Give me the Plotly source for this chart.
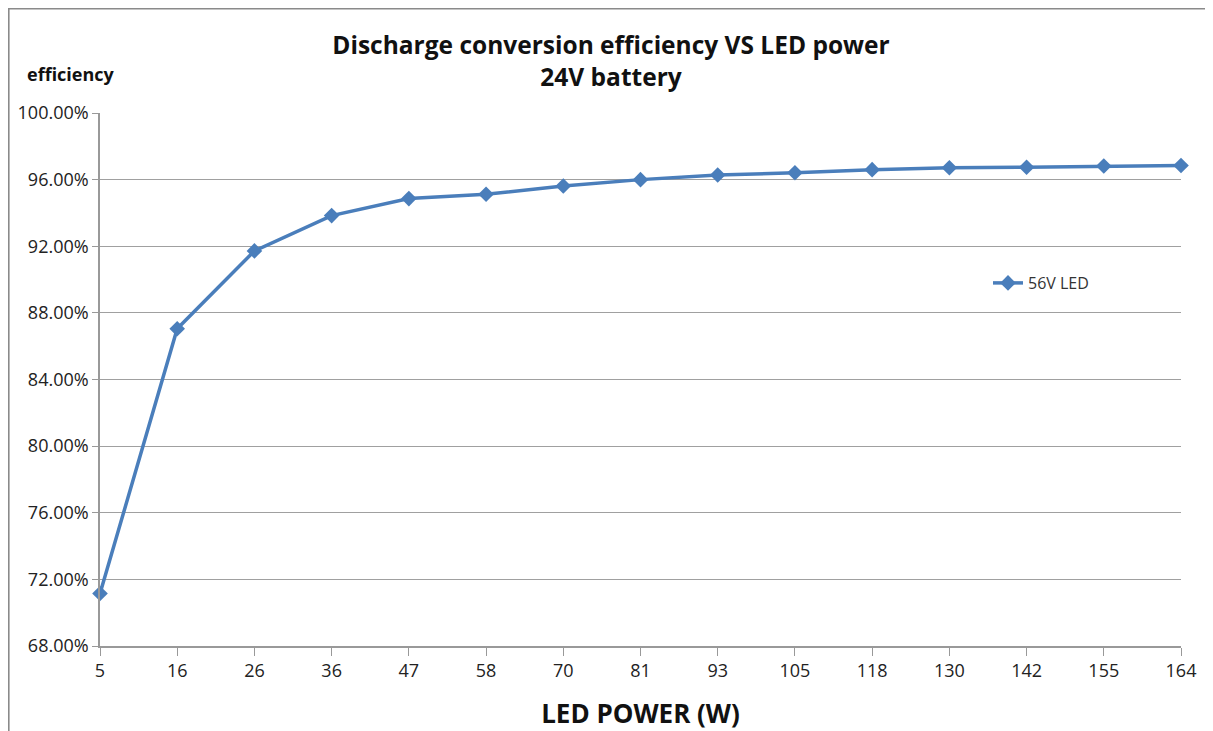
import plotly.graph_objects as go

categories = ["5", "16", "26", "36", "47", "58", "70", "81", "93", "105", "118", "130", "142", "155", "164"]
efficiency = [0.7115, 0.8705, 0.9172, 0.9384, 0.9486, 0.9512, 0.9562, 0.9600, 0.9628, 0.9641, 0.9660, 0.9671, 0.9674, 0.9682, 0.9685]
series_name = "56V LED"

# page has an 8px body offset; work in figure coords = screen - 8
OFF = 8
W, H = 1213 - OFF, 731 - OFF
L, T = 100 - OFF, 113 - OFF
R = W - (1181 - OFF)
B = H - (646 - OFF)
pw, ph = W - L - R, H - T - B

def px(x):
    return (x - OFF - L) / pw

def py(y):
    return (H - B - (y - OFF)) / ph

fig = go.Figure()
fig.add_trace(go.Scatter(
    x=categories, y=efficiency, name=series_name, mode="lines+markers",
    line=dict(color="#4a7ebb", width=3.5),
    marker=dict(symbol="diamond", size=12, color="#4a7ebb"),
    cliponaxis=False,
))

fig.update_layout(
    width=W, height=H,
    margin=dict(l=L, r=R, t=T, b=B),
    paper_bgcolor="white", plot_bgcolor="white",
    font=dict(family="Open Sans", color="#222"),
    title=dict(text="<b>Discharge conversion efficiency VS LED power<br>24V battery</b>",
               x=(611 - OFF) / W, xanchor="center", y=1 - (54 - OFF) / H, yanchor="middle",
               font=dict(size=24.5, color="#111")),
    showlegend=True,
    legend=dict(x=px(988), y=py(283), xanchor="left", yanchor="middle",
                font=dict(size=16, color="#333"), bgcolor="rgba(0,0,0,0)", itemwidth=30),
    xaxis=dict(type="category", range=[0, len(categories) - 1], automargin=False,
               showgrid=False, showline=True, linecolor="#999", linewidth=1.5,
               ticks="outside", ticklen=8, tickcolor="#999",
               tickfont=dict(size=18, color="#222"),
               title=dict(text="<b>LED POWER (W)</b>", font=dict(size=26, color="#111"), standoff=24)),
    yaxis=dict(range=[0.68, 1.0], dtick=0.04, tick0=0.68, tickformat=".2%", automargin=False,
               showgrid=True, gridcolor="#a0a0a0", gridwidth=1.2,
               showline=True, linecolor="#999", linewidth=1.5,
               ticks="outside", ticklen=6, tickcolor="#999",
               tickfont=dict(size=18, color="#222"), zeroline=False),
)

fig.add_annotation(text="<b>efficiency</b>", xref="paper", yref="paper",
                   x=px(25), y=py(74), xanchor="left", yanchor="middle",
                   showarrow=False, font=dict(size=18, color="#111"))

fig.add_shape(type="rect", xref="paper", yref="paper",
              x0=px(OFF + 0.8), x1=px(1240), y0=py(760), y1=py(OFF + 0.8),
              line=dict(color="#8a8a8a", width=1.6), fillcolor="rgba(0,0,0,0)", layer="below")

fig.write_html("out.html")
